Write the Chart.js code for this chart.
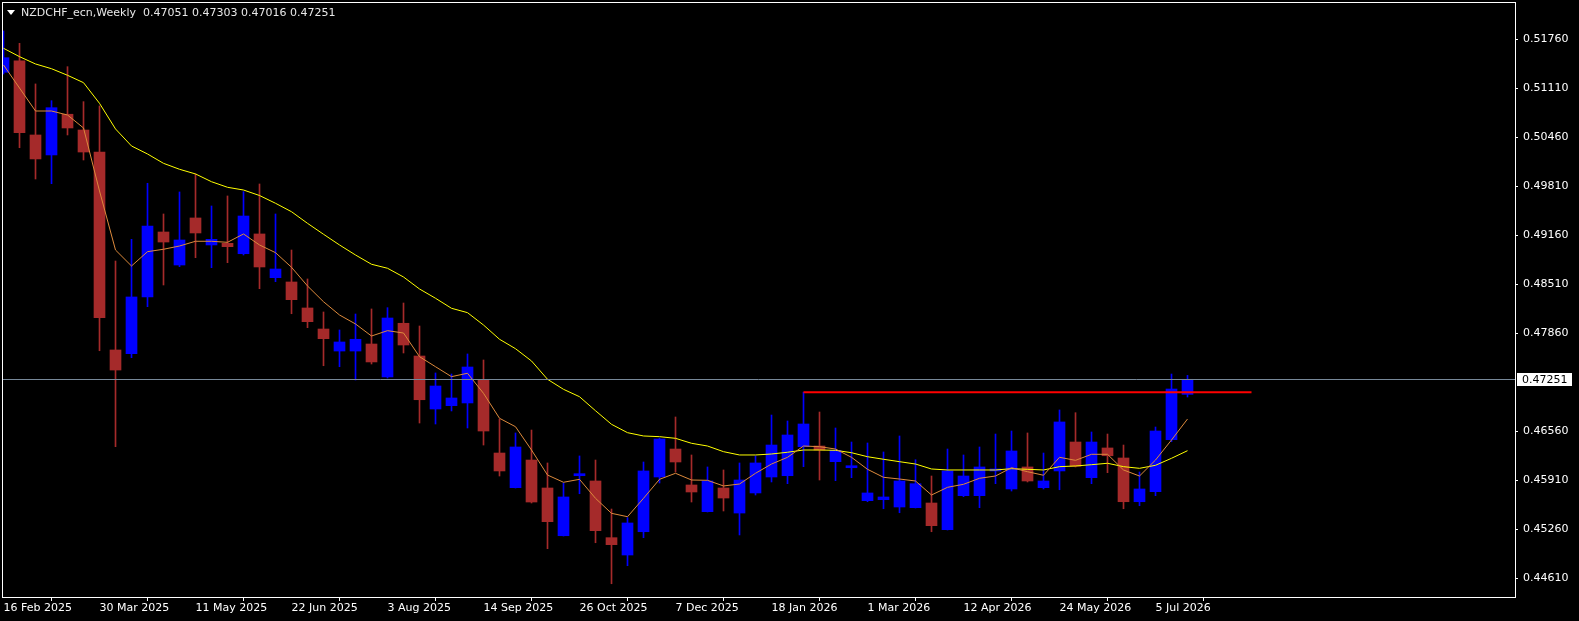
<!DOCTYPE html>
<html>
<head>
<meta charset="utf-8">
<script src="https://cdn.jsdelivr.net/npm/chart.js@4.4.1/dist/chart.umd.min.js"></script>
<style>
  html, body { margin: 0; padding: 0; background: #000; overflow: hidden; }
  canvas { display: block; }
</style>
</head>
<body>
<canvas id="weeklyChart" width="1579" height="621"></canvas>
<script>
// weekly candles (index 0 = 16 Feb 2025)
const opens = [
  0.51324, 0.51474, 0.50492, 0.50227, 0.50767, 0.50558, 0.50266, 0.47640, 0.47591, 0.48343,
  0.49205, 0.48767, 0.49391, 0.49033, 0.49055, 0.48917, 0.49179, 0.48599, 0.48542, 0.48197,
  0.47918, 0.47626, 0.47626, 0.47719, 0.47282, 0.47994, 0.47560, 0.46857, 0.46901, 0.46937,
  0.47242, 0.46273, 0.45813, 0.46180, 0.45809, 0.45176, 0.45972, 0.45902, 0.45150, 0.44920,
  0.45229, 0.45955, 0.46326, 0.45849, 0.45495, 0.45809, 0.45477, 0.45743, 0.45955, 0.45972,
  0.46357, 0.46366, 0.46158, 0.46078, 0.45641, 0.45654, 0.45557, 0.45548, 0.45610, 0.45256,
  0.45707, 0.45707, 0.46035, 0.45796, 0.46088, 0.45813, 0.46035, 0.46419, 0.45946, 0.46340,
  0.46207, 0.45627, 0.45760, 0.46450, 0.47051
];
const highs = [
  0.51872, 0.51708, 0.51169, 0.50947, 0.51398, 0.50934, 0.50877, 0.48820, 0.49108, 0.49851,
  0.49444, 0.49736, 0.49975, 0.49550, 0.49683, 0.49740, 0.49842, 0.49444, 0.48966, 0.48582,
  0.48144, 0.47905, 0.48117, 0.48184, 0.48201, 0.48263, 0.47958, 0.47335, 0.47321, 0.47587,
  0.47507, 0.46724, 0.46539, 0.46578, 0.46141, 0.45875, 0.46234, 0.46180, 0.45530, 0.45415,
  0.46154, 0.46470, 0.46751, 0.46247, 0.46088, 0.46048, 0.46141, 0.46234, 0.46777, 0.46698,
  0.47080, 0.46817, 0.46605, 0.46419, 0.46406, 0.46287, 0.46499, 0.46184, 0.45968, 0.46326,
  0.46247, 0.46353, 0.46525, 0.46565, 0.46539, 0.46273, 0.46844, 0.46808, 0.46552, 0.46525,
  0.46379, 0.46021, 0.46618, 0.47321, 0.47303
];
const lows = [
  0.51301, 0.50323, 0.49908, 0.49846, 0.50492, 0.50160, 0.47630, 0.46357, 0.47538, 0.48214,
  0.48502, 0.48745, 0.48864, 0.48732, 0.48798, 0.48900, 0.48453, 0.48546, 0.48121, 0.47936,
  0.47431, 0.47418, 0.47242, 0.47454, 0.47268, 0.47600, 0.46671, 0.46658, 0.46831, 0.46605,
  0.46379, 0.45968, 0.45809, 0.45610, 0.45004, 0.45172, 0.45733, 0.45083, 0.44539, 0.44778,
  0.45150, 0.45875, 0.46021, 0.45623, 0.45491, 0.45504, 0.45186, 0.45716, 0.45889, 0.45866,
  0.46092, 0.45915, 0.45906, 0.45946, 0.45627, 0.45534, 0.45481, 0.45544, 0.45229, 0.45252,
  0.45694, 0.45548, 0.45866, 0.45769, 0.45889, 0.45796, 0.45786, 0.46088, 0.45866, 0.46012,
  0.45534, 0.45574, 0.45707, 0.46423, 0.47016
];
const closes = [
  0.51517, 0.50522, 0.50174, 0.50854, 0.50585, 0.50266, 0.48068, 0.47374, 0.48343, 0.49285,
  0.49072, 0.49099, 0.49192, 0.49108, 0.49010, 0.49417, 0.48741, 0.48714, 0.48307, 0.48015,
  0.47790, 0.47746, 0.47782, 0.47481, 0.48064, 0.47706, 0.46980, 0.47162, 0.47003, 0.47414,
  0.46565, 0.46035, 0.46353, 0.45623, 0.45362, 0.45690, 0.45999, 0.45243, 0.45057, 0.45345,
  0.46035, 0.46459, 0.46154, 0.45756, 0.45902, 0.45676, 0.45915, 0.46141, 0.46379, 0.46512,
  0.46658, 0.46313, 0.46309, 0.46101, 0.45743, 0.45690, 0.45902, 0.45866, 0.45309, 0.46035,
  0.45968, 0.46088, 0.46054, 0.46300, 0.45902, 0.45902, 0.46685, 0.46097, 0.46419, 0.46237,
  0.45627, 0.45796, 0.46565, 0.47122, 0.47251
];

// moving averages as drawn on the picture
const maFast = [
  0.51421, 0.51115, 0.50810, 0.50810, 0.50757, 0.50585, 0.49749, 0.48966, 0.48754, 0.48944,
  0.48976, 0.49019, 0.49082, 0.49082, 0.49068, 0.49179, 0.49033, 0.48931, 0.48737, 0.48489,
  0.48280, 0.48104, 0.47985, 0.47825, 0.47896, 0.47865, 0.47551, 0.47418, 0.47286, 0.47331,
  0.47065, 0.46734, 0.46622, 0.46313, 0.45981, 0.45885, 0.45924, 0.45672, 0.45473, 0.45428,
  0.45672, 0.45924, 0.46004, 0.45915, 0.45911, 0.45836, 0.45862, 0.46004, 0.46127, 0.46216,
  0.46366, 0.46357, 0.46326, 0.46216, 0.46057, 0.45951, 0.45928, 0.45902, 0.45716, 0.45818,
  0.45858, 0.45938, 0.45968, 0.46078, 0.46025, 0.45978, 0.46216, 0.46176, 0.46256, 0.46256,
  0.46048, 0.45968, 0.46180, 0.46446, 0.46724
];
const maSlow = [
  0.51642, 0.51531, 0.51434, 0.51371, 0.51284, 0.51186, 0.50912, 0.50572, 0.50346, 0.50240,
  0.50116, 0.50037, 0.49975, 0.49872, 0.49798, 0.49762, 0.49689, 0.49586, 0.49474, 0.49320,
  0.49175, 0.49033, 0.48900, 0.48777, 0.48724, 0.48608, 0.48449, 0.48326, 0.48193, 0.48135,
  0.47971, 0.47782, 0.47657, 0.47494, 0.47251, 0.47118, 0.47020, 0.46834, 0.46654, 0.46543,
  0.46499, 0.46490, 0.46468, 0.46402, 0.46366, 0.46291, 0.46247, 0.46247, 0.46260, 0.46283,
  0.46313, 0.46313, 0.46309, 0.46277, 0.46224, 0.46190, 0.46158, 0.46127, 0.46061, 0.46048,
  0.46048, 0.46048, 0.46048, 0.46065, 0.46057, 0.46048, 0.46092, 0.46101, 0.46118, 0.46137,
  0.46092, 0.46070, 0.46110, 0.46203, 0.46304
];

const levelPrice = 0.47080;
const levelFrom = 50;
const levelTo = 78;

const yTicks = [0.51760, 0.51110, 0.50460, 0.49810, 0.49160, 0.48510, 0.47860, 0.46560, 0.45910, 0.45260, 0.44610];
const xTickIdx = [0, 6, 12, 18, 24, 30, 36, 42, 48, 54, 60, 66, 72];
const xTickLabels = ['16 Feb 2025', '30 Mar 2025', '11 May 2025', '22 Jun 2025', '3 Aug 2025', '14 Sep 2025',
  '26 Oct 2025', '7 Dec 2025', '18 Jan 2026', '1 Mar 2026', '12 Apr 2026', '24 May 2026', '5 Jul 2026'];

const titleText = 'NZDCHF_ecn,Weekly  0.47051 0.47303 0.47016 0.47251';

const UP = '#0000ff';
const DOWN = '#a52a2a';
const FONT = { family: 'DejaVu Sans', size: 11 };

// wanted plot box (px)
const AREA = { left: 2, top: 2, right: 1515, bottom: 597 };
let yAxisW = 1579 - AREA.right;
let xAxisH = 621 - AREA.bottom;

const upBodies = [], downBodies = [], upWicks = [], downWicks = [];
opens.forEach((o, i) => {
  const c = closes[i];
  if (c >= o) {
    upBodies.push({ x: i, y: [o, c] });
    upWicks.push({ x: i, y: [lows[i], highs[i]] });
  } else {
    downBodies.push({ x: i, y: [c, o] });
    downWicks.push({ x: i, y: [lows[i], highs[i]] });
  }
});

const barBase = { type: 'bar', grouped: false, borderWidth: 0, borderSkipped: false };

const chrome = {
  id: 'chrome',
  afterDraw(chart) {
    const { ctx, chartArea: a, scales } = chart;
    const last = closes[closes.length - 1];
    const y = Math.round(scales.y.getPixelForValue(last)) + 0.5;
    ctx.save();
    // bid line
    ctx.strokeStyle = '#778899';
    ctx.lineWidth = 1;
    ctx.beginPath();
    ctx.moveTo(a.left, y);
    ctx.lineTo(a.right, y);
    ctx.stroke();
    // frame
    ctx.strokeStyle = '#ffffff';
    ctx.strokeRect(a.left + 0.5, a.top + 0.5, a.right - a.left, a.bottom - a.top);
    // price label
    ctx.fillStyle = '#ffffff';
    ctx.fillRect(a.right + 2, y - 6.5, 55, 13);
    ctx.fillStyle = '#000000';
    ctx.font = '11px "DejaVu Sans"';
    ctx.textBaseline = 'middle';
    ctx.textAlign = 'left';
    ctx.fillText(last.toFixed(5), a.right + 7, y + 0.5);
    // header
    ctx.fillStyle = '#ffffff';
    ctx.beginPath();
    ctx.moveTo(7, 10);
    ctx.lineTo(15, 10);
    ctx.lineTo(11, 15);
    ctx.closePath();
    ctx.fill();
    ctx.fillStyle = '#e8e8e8';
    ctx.fillText(titleText, 21, 13);
    ctx.restore();
  }
};

const chart = new Chart(document.getElementById('weeklyChart'), {
  type: 'bar',
  data: {
    datasets: [
      { ...barBase, data: upWicks, backgroundColor: UP, barThickness: 1, order: 4 },
      { ...barBase, data: downWicks, backgroundColor: DOWN, barThickness: 1, order: 4 },
      { ...barBase, data: upBodies, backgroundColor: UP, barThickness: 11, minBarLength: 2, order: 3 },
      { ...barBase, data: downBodies, backgroundColor: DOWN, barThickness: 11, minBarLength: 2, order: 3 },
      {
        type: 'line', data: maSlow.map((v, i) => ({ x: i, y: v })),
        borderColor: '#ffff00', borderWidth: 1, pointRadius: 0, tension: 0, order: 2
      },
      {
        type: 'line', data: maFast.map((v, i) => ({ x: i, y: v })),
        borderColor: '#dd8a3c', borderWidth: 1, pointRadius: 0, tension: 0, order: 1
      },
      {
        type: 'line', data: [{ x: levelFrom, y: levelPrice }, { x: levelTo, y: levelPrice }],
        borderColor: '#ff0000', borderWidth: 2, pointRadius: 0, order: 0
      }
    ]
  },
  options: {
    responsive: false,
    devicePixelRatio: 1,
    animation: false,
    layout: { autoPadding: false, padding: { left: AREA.left, top: AREA.top, right: 0, bottom: 0 } },
    plugins: { legend: { display: false }, tooltip: { enabled: false } },
    scales: {
      x: {
        type: 'linear',
        offset: false,
        min: -0.094,
        max: -0.094 + (AREA.right - AREA.left) / 16,
        afterBuildTicks: (s) => { s.ticks = xTickIdx.map(v => ({ value: v })); },
        afterFit: (s) => { s.height = xAxisH; s.paddingLeft = 0; s.paddingRight = 0; },
        ticks: {
          autoSkip: false, maxRotation: 0, align: 'start', padding: 1, color: '#ffffff', font: FONT,
          callback: (v) => xTickLabels[xTickIdx.indexOf(v)] || ''
        },
        grid: { drawOnChartArea: false, tickLength: 4, color: '#ffffff' },
        border: { color: '#ffffff' }
      },
      y: {
        position: 'right',
        min: 0.44363,
        max: 0.52256,
        afterBuildTicks: (s) => { s.ticks = yTicks.map(v => ({ value: v })); },
        afterFit: (s) => { s.width = yAxisW; s.paddingTop = 0; s.paddingBottom = 0; },
        ticks: {
          autoSkip: false, padding: 5, color: '#ffffff', font: FONT,
          callback: (v) => v.toFixed(5)
        },
        grid: { drawOnChartArea: false, tickLength: 3, color: '#ffffff' },
        border: { color: '#ffffff' }
      }
    }
  },
  plugins: [chrome]
});

// nudge axis sizes so the plot box lands where the reference has it
const ca = chart.chartArea;
yAxisW -= AREA.right - ca.right;
xAxisH -= AREA.bottom - ca.bottom;
chart.update();
</script>
</body>
</html>
